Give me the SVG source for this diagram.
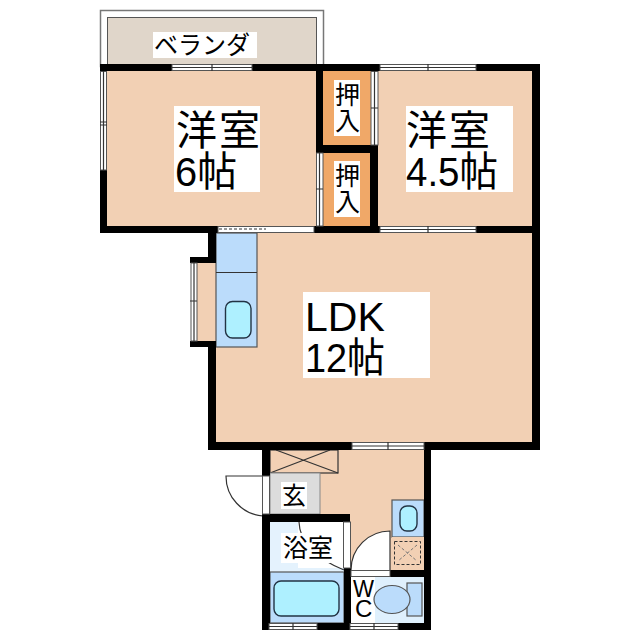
<svg xmlns="http://www.w3.org/2000/svg" width="640" height="640" viewBox="0 0 640 640">
<style>
text{font-family:"Liberation Sans","Noto Sans CJK JP",sans-serif;fill:#000}
.big{font-size:41px}.mid{font-size:25px}
.floor{fill:#f2d0b4}.closet{fill:#f0a868}.wall{fill:#000}.lab{fill:#fff}
.win{fill:#fff;stroke:#555;stroke-width:1}
.thin{fill:none;stroke:#333;stroke-width:1.2}
.blue{fill:#bbdcfb;stroke:#555;stroke-width:1.2}
.fix{fill:#aef0ff;stroke:#234;stroke-width:1.4}
</style>
<rect width="640" height="640" fill="#fff"/>
<g id="veranda">
<rect x="100.500" y="10.500" width="223" height="56" fill="#fff" stroke="#777" stroke-width="1.500"/>
<rect x="107.500" y="17.500" width="209" height="48" fill="#e0d6ca" stroke="#555"/>
<rect class="lab" x="153" y="32" width="104" height="26"/>
<text x="154" y="54" font-size="24.500" textLength="96" lengthAdjust="spacingAndGlyphs">ベランダ</text>
</g>
<g id="room-6">
<rect class="floor" x="107" y="71" width="209" height="155"/>
<rect class="lab" x="174" y="106" width="86" height="86"/>
<text class="big" x="176" y="145" textLength="84">洋室</text>
<text class="big" x="175" y="186" textLength="62" lengthAdjust="spacingAndGlyphs">6帖</text>
</g>
<g id="closet-1">
<rect class="closet" x="323" y="71" width="48" height="74"/>
<rect class="lab" x="334" y="80" width="26" height="56"/>
<text class="mid" x="335" y="104">押</text><text class="mid" x="335" y="130">入</text>
</g>
<g id="closet-2">
<rect class="closet" x="323" y="153" width="47" height="73"/>
<rect class="lab" x="334" y="161" width="26" height="56"/>
<text class="mid" x="335" y="185">押</text><text class="mid" x="335" y="211">入</text>
</g>
<g id="room-45">
<rect class="floor" x="378" y="71" width="154" height="155"/>
<rect class="lab" x="406" y="106" width="107" height="86"/>
<text class="big" x="406" y="145" textLength="84">洋室</text>
<text class="big" x="406" y="186" textLength="92" lengthAdjust="spacingAndGlyphs">4.5帖</text>
</g>
<g id="ldk">
<rect class="floor" x="216" y="233" width="316" height="209"/>
<rect class="floor" x="197" y="263" width="19" height="78"/>
<rect class="lab" x="303" y="292" width="127" height="86"/>
<text class="big" x="305" y="331">LDK</text>
<text class="big" x="305" y="372" textLength="80" lengthAdjust="spacingAndGlyphs">12帖</text>
</g>
<g id="kitchen">
<rect class="blue" x="216" y="233" width="41" height="114"/>
<path class="thin" d="M216 272.500H257"/>
<rect class="fix" x="225.500" y="301.500" width="25.500" height="36.500" rx="7"/>
</g>
<g id="hall">
<rect class="floor" x="270" y="450" width="154" height="120"/>
<rect x="270" y="450" width="68" height="23" class="floor" stroke="#333" stroke-width="1.200"/>
<path class="thin" d="M276 450L338 473M330 450L270 473"/>
<path d="M351 570A39 39 0 0 1 390 531V570Z" fill="#fff"/>
<path class="thin" d="M351 570A39 39 0 0 1 390 531V570"/>
</g>
<g id="genkan">
<rect x="270" y="473" width="50" height="41" fill="#dcdcdc" stroke="#888"/>
<rect class="lab" x="281" y="482" width="26" height="27"/>
<text x="282" y="504" font-size="24">玄</text>
<path d="M263 476H226A40 40 0 0 0 263 516" fill="#fff" stroke="#333" stroke-width="1.200"/>
</g>
<g id="wash">
<rect class="blue" x="392" y="500" width="32" height="37"/>
<rect class="fix" x="400" y="506" width="17" height="25" rx="7"/>
<rect class="floor" x="392" y="537" width="32" height="33"/>
<rect x="394.500" y="541.500" width="26" height="23" fill="none" stroke="#333" stroke-dasharray="3 2"/>
<path d="M398 545L417 561M417 545L398 561" fill="none" stroke="#777" stroke-dasharray="3 2"/>
</g>
<g id="bath">
<rect x="270" y="520" width="74" height="52" fill="#e4f2fd"/>
<rect class="lab" x="298" y="522" width="46" height="46"/>
<path class="thin" d="M299 522Q300 552 344 570"/>
<rect class="lab" x="281" y="533" width="56" height="30"/>
<text x="283" y="557" font-size="25">浴室</text>
<rect class="blue" x="270" y="572" width="74" height="51"/>
<rect class="fix" x="274" y="581" width="65" height="35" rx="7"/>
</g>
<g id="wc">
<rect class="lab" x="351" y="577" width="24" height="46"/>
<rect x="375" y="577" width="49" height="46" fill="#dff0fd"/>
<rect class="blue" x="407" y="583" width="15" height="33"/>
<ellipse class="blue" cx="392" cy="599.500" rx="18" ry="14"/>
<text x="353" y="597" font-size="24" textLength="21" lengthAdjust="spacingAndGlyphs">W</text>
<text x="355" y="617" font-size="24">C</text>
</g>
<g id="connectors">
<path class="wall" d="M100 64H323V71H107V233H100ZM100 226H218V233H100Z"/>
<rect class="wall" x="316" y="64" width="7" height="89"/>
<rect class="wall" x="316" y="145" width="62" height="8"/>
<rect class="wall" x="370" y="145" width="8" height="88"/>
<rect class="wall" x="314" y="226" width="66" height="7"/>
<rect class="wall" x="323" y="64" width="57" height="7"/>
<rect class="wall" x="476" y="64" width="64" height="7"/>
<rect class="wall" x="532" y="64" width="8" height="386"/>
<rect class="wall" x="476" y="226" width="56" height="7"/>
<rect class="wall" x="208" y="226" width="8" height="31"/>
<rect class="wall" x="190" y="257" width="26" height="6"/>
<rect class="wall" x="190" y="341" width="26" height="6"/>
<rect class="wall" x="208" y="341" width="8" height="109"/>
<rect class="wall" x="208" y="442" width="144" height="8"/>
<rect class="wall" x="424" y="442" width="116" height="8"/>
<rect class="wall" x="424" y="442" width="7" height="188"/>
<rect class="wall" x="262" y="442" width="8" height="34"/>
<rect class="wall" x="262" y="514" width="8" height="116"/>
<rect class="wall" x="262" y="514" width="88" height="8"/>
<rect class="wall" x="344" y="568" width="7" height="62"/>
<rect class="wall" x="390" y="570" width="41" height="7"/>
<rect class="wall" x="262" y="623" width="169" height="7"/>
<g id="windows">
<rect class="win" x="100.500" y="71.500" width="6" height="98.500"/><path class="thin" d="M103.500 71V170M100 122H107M100 125H107"/>
<rect class="win" x="172" y="64.500" width="80" height="6"/><path class="thin" d="M172 67.500H252M212 64V71"/>
<rect class="win" x="371" y="71.500" width="7" height="73.500"/><path class="thin" d="M374.500 71V145M371 108H378"/>
<rect class="win" x="316.500" y="153" width="6.500" height="73"/><path class="thin" d="M319.500 153V226M316 189H323"/>
<rect class="win" x="380" y="64.500" width="96" height="6"/><path class="thin" d="M380 67.500H476M428 64V71"/>
<rect class="win" x="380" y="226.500" width="96" height="6"/><path class="thin" d="M380 229.500H476M428 226V233"/>
<rect class="win" x="218" y="226.500" width="96" height="6"/><path d="M219 229H266" stroke="#333" stroke-dasharray="3 2" fill="none"/>
<rect class="win" x="191" y="263" width="6" height="78"/><path class="thin" d="M194 263V341M190 301H197"/>
<rect class="win" x="352" y="442.500" width="72" height="7"/><path class="thin" d="M352 446H424M388 442V450"/>
<rect class="win" x="262.500" y="476" width="7" height="38"/>
<rect class="win" x="343.500" y="522" width="7" height="46"/>
<rect class="win" x="351" y="570.500" width="39" height="6"/>
<rect class="win" x="269" y="623.500" width="48" height="6"/><path class="thin" d="M269 626.500H317M293 623V630"/>
<rect class="win" x="350" y="623.500" width="48" height="6"/><path class="thin" d="M350 626.500H398M374 623V630"/>
</g>
</g>
</svg>
